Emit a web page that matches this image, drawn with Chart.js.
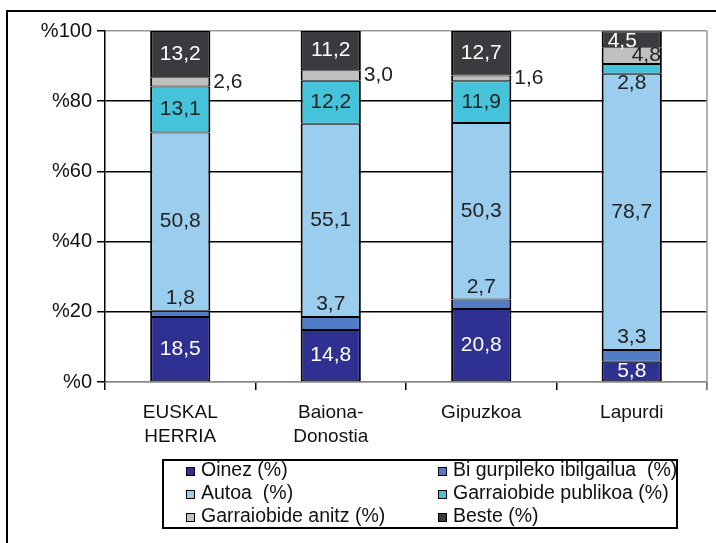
<!DOCTYPE html>
<html>
<head>
<meta charset="utf-8">
<script src="https://cdn.jsdelivr.net/npm/chart.js@4"></script>
<style>
  html, body { margin: 0; padding: 0; background: #fff; }
  #wrap { width: 716px; height: 543px; position: relative; }
</style>
</head>
<body>
<div id="wrap"><canvas id="c"></canvas></div>
<script>
// Commuting mode shares by area (%).
const categories = [["EUSKAL", "HERRIA"], ["Baiona-", "Donostia"], "Gipuzkoa", "Lapurdi"];
const seriesNames = ["Oinez (%)", "Bi gurpileko ibilgailua  (%)", "Autoa  (%)",
    "Garraiobide publikoa (%)", "Garraiobide anitz (%)", "Beste (%)"];
const oinez = [18.5, 14.8, 20.8, 5.8];
const biGurpil = [1.8, 3.7, 2.7, 3.3];
const autoa = [50.8, 55.1, 50.3, 78.7];
const publikoa = [13.1, 12.2, 11.9, 2.8];
const anitz = [2.6, 3.0, 1.6, 4.8];
const beste = [13.2, 11.2, 12.7, 4.5];
const yTicks = [0, 20, 40, 60, 80, 100];

const colors = ["#2E3192", "#4F7CC4", "#9ACDEE", "#44C3DA", "#C0C0C0", "#3B3B3F"];
const FONT = "'Liberation Sans', Arial, sans-serif";

// where each value label sits, relative to its bar segment
function labelPos(ds, i, bar) {
    const half = bar.width / 2;
    let x = bar.x, y = (bar.y + bar.base) / 2, align = "center";
    if (ds === 1) y = bar.y - 12.5;
    if (ds === 3 && i === 3) y = bar.base + 9;
    if (ds === 4) {
        if (i < 3) { x = bar.x + half + 3; align = "left"; }
        else { x = bar.x + half - 1; align = "right"; }
    }
    if (ds === 5 && i === 3) { x = bar.x - half + 6; align = "left"; y += 2; }
    return { x, y, align };
}

const valueLabels = {
    id: "valueLabels",
    afterDatasetsDraw(chart) {
        const ctx = chart.ctx;
        ctx.save();
        ctx.font = "21px " + FONT;
        ctx.textBaseline = "middle";
        chart.data.datasets.forEach((d, ds) => {
            chart.getDatasetMeta(ds).data.forEach((bar, i) => {
                const p = labelPos(ds, i, bar);
                ctx.fillStyle = (ds === 0 || ds === 5) ? "#fff" : "#222";
                ctx.textAlign = p.align;
                ctx.fillText(d.data[i].toFixed(1).replace(".", ","), p.x, p.y);
            });
        });
        ctx.restore();
    },
    afterDraw(chart) {
        const ctx = chart.ctx;
        const a = chart.chartArea;
        ctx.save();
        // right edge of plot
        ctx.strokeStyle = "#999";
        ctx.lineWidth = 1.5;
        ctx.beginPath();
        ctx.moveTo(a.right, a.top);
        ctx.lineTo(a.right, a.bottom + 8);
        ctx.stroke();
        // outer frame
        ctx.strokeStyle = "#000";
        ctx.lineWidth = 2;
        ctx.beginPath();
        ctx.moveTo(7, 543);
        ctx.lineTo(7, 11);
        ctx.lineTo(716, 11);
        ctx.stroke();
        // legend box
        const bx = 163, by = 460, bw = 514, bh = 68;
        ctx.beginPath();
        ctx.rect(bx, by, bw, bh);
        ctx.stroke();
        ctx.save();
        ctx.beginPath();
        ctx.rect(bx, by, bw - 1, bh);
        ctx.clip();
        ctx.font = "19.5px " + FONT;
        ctx.textBaseline = "middle";
        ctx.textAlign = "left";
        chart.data.datasets.forEach((d, ds) => {
            const row = Math.floor(ds / 2), col = ds % 2;
            const sx = col ? 438 : 186;
            const cy = 471 + row * 23;
            ctx.fillStyle = d.backgroundColor;
            ctx.fillRect(sx, cy - 4, 8, 8);
            ctx.lineWidth = 1;
            ctx.strokeStyle = "#000";
            ctx.strokeRect(sx + 0.5, cy - 3.5, 8, 8);
            ctx.fillStyle = "#111";
            ctx.fillText(d.label, sx + 15, cy);
        });
        ctx.restore();
        ctx.restore();
    }
};

const seriesValues = [oinez, biGurpil, autoa, publikoa, anitz, beste];

new Chart(document.getElementById("c"), {
    type: "bar",
    data: {
        labels: categories,
        datasets: seriesValues.map((vals, k) => ({
            label: seriesNames[k],
            data: vals,
            backgroundColor: colors[k],
            borderColor: "#000",
            borderWidth: { left: 2, right: 2, top: 1, bottom: 1 },
            borderSkipped: false,
            barPercentage: 0.4,
            categoryPercentage: 1.0,
        })),
    },
    options: {
        responsive: true,
        maintainAspectRatio: false,
        animation: false,
        layout: { padding: { top: 31, right: 9, left: 0, bottom: 0 } },
        plugins: { legend: { display: false }, tooltip: { enabled: false } },
        scales: {
            x: {
                stacked: true,
                afterFit: (s) => { s.height = 161; },
                grid: { offset: true, drawOnChartArea: false, tickLength: 8, tickColor: "#000", lineWidth: 1.5 },
                border: { color: "#888", width: 1.5 },
                ticks: { color: "#111", padding: 11, font: { family: FONT, size: 19, lineHeight: 1.25 } },
            },
            y: {
                stacked: true,
                min: 0,
                max: 100,
                afterFit: (s) => { s.width = 105; },
                afterBuildTicks: (s) => { s.ticks = yTicks.map((v) => ({ value: v })); },
                grid: {
                    color: (c) => (c.tick && (c.tick.value === 100 || c.tick.value === 0)) ? "#999" : "#000",
                    tickColor: "#000",
                    lineWidth: 1.5,
                    tickLength: 8,
                },
                border: { color: "#000", width: 1.5 },
                ticks: {
                    color: "#111",
                    padding: 5,
                    font: { family: FONT, size: 20 },
                    callback: (v) => "%" + v,
                },
            },
        },
    },
    plugins: [valueLabels],
});
</script>
</body>
</html>
